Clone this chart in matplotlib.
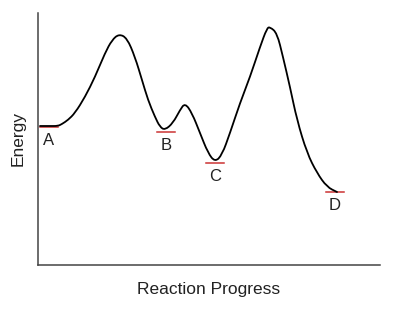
import matplotlib
matplotlib.use("Agg")
import matplotlib.pyplot as plt
from matplotlib.path import Path
from matplotlib.patches import PathPatch

plt.rcParams['font.family'] = ['Liberation Sans', 'DejaVu Sans']

# Energy profile (progress units, energy units)
progress = [2, 12, 20, 24, 30, 37, 47, 57, 67, 74, 81, 89, 97, 104, 110, 117, 122,
            127, 135, 142, 147, 154, 162, 170, 177, 184, 192, 202, 212, 222, 229,
            232, 239, 245, 252, 259, 269, 279, 289, 299]
energy = [139, 139, 139, 141, 145, 152, 168, 188, 212, 225, 231, 227, 208, 185, 165,
          148, 138, 135, 142, 155, 162, 152, 132, 112, 103, 110, 132, 162, 188, 218,
          237, 238, 232, 208, 178, 145, 112, 92, 78, 73]

states = ['A', 'B', 'C', 'D']
state_x = [11, 128.5, 177.5, 297]
state_y = [138, 133, 102, 73]

fig = plt.figure(figsize=(3.95, 3.10), dpi=100)
ax = fig.add_axes([38/395, 45/310, 342/395, 252/310])
ax.set_xlim(0, 342)
ax.set_ylim(0, 252)

# Smooth drawing of the read points: quadratic Bezier segments through midpoints
pts = list(zip(progress, energy))
verts = [pts[0], ((pts[0][0] + pts[1][0]) / 2, (pts[0][1] + pts[1][1]) / 2)]
codes = [Path.MOVETO, Path.LINETO]
for i in range(1, len(pts) - 1):
    mid = ((pts[i][0] + pts[i + 1][0]) / 2, (pts[i][1] + pts[i + 1][1]) / 2)
    verts += [pts[i], mid]
    codes += [Path.CURVE3, Path.CURVE3]
verts.append(pts[-1])
codes.append(Path.LINETO)
ax.add_patch(PathPatch(Path(verts, codes), facecolor='none', edgecolor='black',
                       lw=1.3, capstyle='round', joinstyle='round', zorder=3))

for name, sx, sy in zip(states, state_x, state_y):
    ax.plot([sx - 9, sx + 9], [sy, sy], color='#cc3333', lw=1.1, zorder=2)
    ax.annotate(name, (sx, sy), xytext=(0, -4), textcoords='offset points',
                ha='center', va='top', fontsize=12, color='#222222')

for side in ['top', 'right']:
    ax.spines[side].set_visible(False)
for side in ['left', 'bottom']:
    ax.spines[side].set_color('#444444')
    ax.spines[side].set_linewidth(1.1)
ax.set_xticks([])
ax.set_yticks([])

ax.set_xlabel('Reaction Progress', fontsize=12.5, color='#222222', labelpad=12)
ax.set_ylabel('Energy', fontsize=12.5, color='#222222', labelpad=9)

fig.savefig('out.png', dpi=100, facecolor='white')
